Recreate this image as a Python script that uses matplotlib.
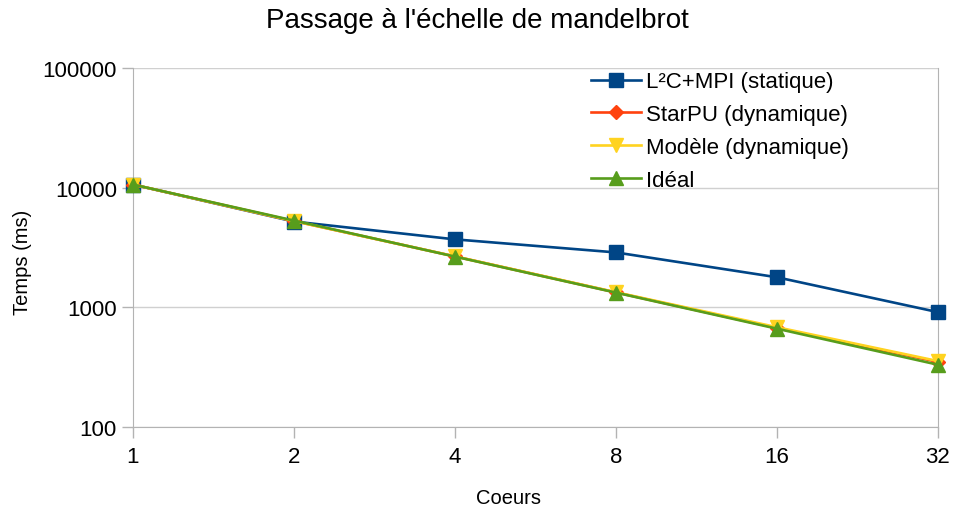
import matplotlib.pyplot as plt
from matplotlib.ticker import FixedLocator, FixedFormatter, NullLocator

plt.rcParams['font.family'] = ['Liberation Sans', 'DejaVu Sans']

coeurs = [1, 2, 4, 8, 16, 32]
l2c_mpi = [10600, 5200, 3690, 2870, 1780, 910]
starpu = [10600, 5250, 2660, 1330, 670, 350]
modele = [10600, 5250, 2660, 1335, 681, 355]
ideal = [10600, 5300, 2650, 1325, 662, 331]

series = [
    ("L²C+MPI (statique)", l2c_mpi, "#004586", "s"),
    ("StarPU (dynamique)", starpu, "#ff420e", "D"),
    ("Modèle (dynamique)", modele, "#ffd320", "v"),
    ("Idéal", ideal, "#579d1c", "^"),
]

fig = plt.figure(figsize=(9.55, 5.1), dpi=100)
ax = fig.add_axes([0.139, 0.161, 0.843, 0.704])

for label, vals, color, marker in series:
    ms = 7.5 if marker == "D" else 10
    ax.plot(coeurs, vals, color=color, marker=marker, markersize=ms,
            linewidth=1.9, label=label, clip_on=False, zorder=3)

ax.set_xscale('log', base=2)
ax.set_yscale('log')
ax.set_xlim(1, 32)
ax.set_ylim(100, 100000)
ax.xaxis.set_major_locator(FixedLocator(coeurs))
ax.xaxis.set_major_formatter(FixedFormatter([str(c) for c in coeurs]))
ax.xaxis.set_minor_locator(NullLocator())
ax.yaxis.set_major_locator(FixedLocator([100, 1000, 10000, 100000]))
ax.yaxis.set_major_formatter(FixedFormatter(["100", "1000", "10000", "100000"]))
ax.yaxis.set_minor_locator(NullLocator())

ax.grid(axis='y', color='#d0d0d0', linewidth=1)
for s in ['left', 'bottom', 'right']:
    ax.spines[s].set_color('#b3b3b3')
ax.spines['top'].set_visible(False)
ax.tick_params(axis='both', colors='#b3b3b3', labelcolor='black',
               labelsize=16, length=8, width=1)
ax.tick_params(axis='y', pad=3.5)
ax.tick_params(axis='x', pad=6)

fig.text(0.5, 1 - 21 / 510, "Passage à l'échelle de mandelbrot",
         fontsize=20, ha='center', va='center')
ax.set_xlabel("Coeurs", fontsize=14.5)
ax.set_ylabel("Temps (ms)", fontsize=14.5)
# the labels are not centred on the plot area in the original
ax.xaxis.set_label_coords(0.467, -0.170)
ax.yaxis.set_label_coords(-0.1255, 0.461)

ax.legend(loc='upper left', bbox_to_anchor=(0.544, 1.046), frameon=False,
          fontsize=16, handlelength=2.25, handletextpad=0.23,
          labelspacing=0.53)

fig.savefig("out.png", dpi=100)
